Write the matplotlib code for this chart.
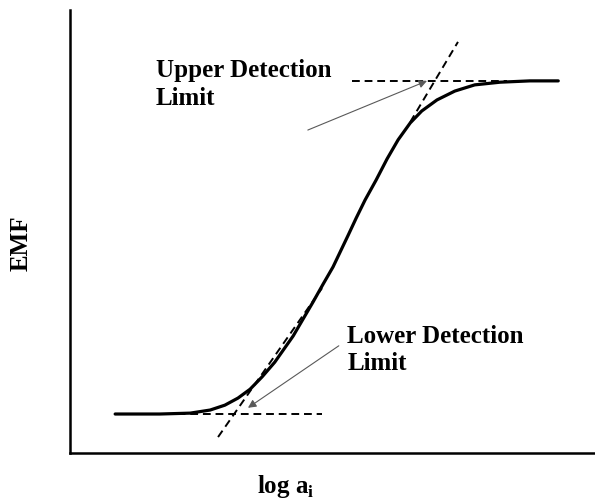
import matplotlib
matplotlib.use("Agg")
import matplotlib.pyplot as plt

plt.rcParams['font.family'] = ['Liberation Serif', 'DejaVu Serif']
plt.rcParams['font.weight'] = 'bold'
plt.rcParams['mathtext.fontset'] = 'custom'
plt.rcParams['mathtext.bf'] = 'Liberation Serif:bold'
plt.rcParams['mathtext.rm'] = 'Liberation Serif:bold'

# Response curve: EMF against log activity (arbitrary units)
log_a = [0.86, 1.71, 2.29, 2.67, 2.95, 3.20, 3.43, 3.66, 3.90, 4.25, 4.63,
         4.82, 5.01, 5.30, 5.45, 5.62, 5.83, 6.04, 6.25, 6.48, 6.70, 6.99,
         7.33, 7.71, 8.19, 8.76, 9.30]
emf = [8.8, 8.8, 9.0, 9.7, 10.8, 12.4, 14.4, 17.2, 20.5, 26.4, 34.1,
       38.1, 42.0, 49.2, 53.0, 57.1, 61.6, 66.4, 70.7, 74.5, 77.2, 79.7,
       81.7, 83.1, 83.7, 84.0, 84.0]

# Construction lines for the detection limits
lower_base_x = [1.81, 4.80]
lower_base_y = [8.8, 8.8]
lower_tan_x = [2.82, 4.80]
lower_tan_y = [3.6, 37.2]
upper_base_x = [5.37, 8.32]
upper_base_y = [84.0, 84.0]
upper_tan_x = [6.48, 7.39]
upper_tan_y = [74.7, 92.8]

upper_label = "Upper Detection\nLimit"
upper_text_xy = (1.64, 78.6)
upper_arrow_from = (4.53, 72.9)
upper_arrow_to = (6.80, 84.0)

lower_label = "Lower Detection\nLimit"
lower_text_xy = (5.28, 18.7)
lower_arrow_from = (5.12, 24.2)
lower_arrow_to = (3.39, 10.2)

fig = plt.figure(figsize=(5.95, 5.04), dpi=100)
ax = fig.add_axes([70 / 595, 51 / 504, 525 / 595, 443 / 504])

dash = dict(color='black', lw=1.4, dashes=(4, 2.5))
ax.plot(lower_base_x, lower_base_y, **dash)
ax.plot(lower_tan_x, lower_tan_y, **dash)
ax.plot(upper_base_x, upper_base_y, **dash)
ax.plot(upper_tan_x, upper_tan_y, **dash)
ax.plot(log_a, emf, color='black', lw=2.3, solid_joinstyle='round',
        solid_capstyle='round', zorder=3)

arrow = dict(arrowstyle='-|>', color='0.35', lw=0.8, mutation_scale=12,
             shrinkA=0, shrinkB=0)
ax.annotate('', xy=upper_arrow_to, xytext=upper_arrow_from, arrowprops=arrow)
ax.annotate('', xy=lower_arrow_to, xytext=lower_arrow_from, arrowprops=arrow)

# baseline anchor sits on the last line ("Limit")
ax.text(*upper_text_xy, upper_label, fontsize=18, fontweight='bold',
        ha='left', va='baseline', linespacing=1.25)
ax.text(*lower_text_xy, lower_label, fontsize=18, fontweight='bold',
        ha='left', va='baseline', linespacing=1.25)

ax.set_xlim(0, 10)
ax.set_ylim(0, 100)
ax.set_xticks([])
ax.set_yticks([])
for side in ['top', 'right']:
    ax.spines[side].set_visible(False)
for side in ['left', 'bottom']:
    ax.spines[side].set_linewidth(1.8)

fig.text(21 / 595, 1 - 243 / 504, 'EMF', rotation=90, fontsize=18,
         fontweight='bold', ha='center', va='center')
fig.text(257 / 595, 1 - 493 / 504, r'log a$_\mathbf{i}$', fontsize=18,
         fontweight='bold', ha='left', va='baseline')

fig.savefig('out.png', dpi=100)
